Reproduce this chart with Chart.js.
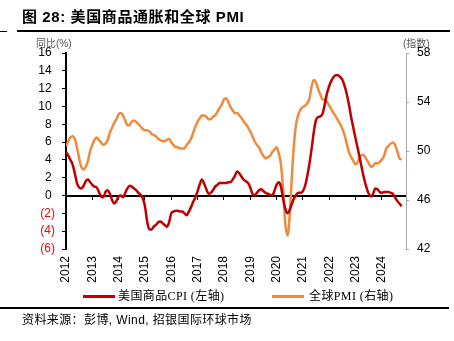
<!DOCTYPE html>
<html><head><meta charset="utf-8">
<script src="https://cdn.jsdelivr.net/npm/chart.js@4"></script>
<style>
body{margin:0;background:#fff;width:454px;height:341px;overflow:hidden;position:relative;font-family:'Liberation Sans',Arial,'Noto Sans CJK SC',sans-serif;}
#c{position:absolute;left:0;top:0;}
.t{position:absolute;white-space:nowrap;line-height:1;}
.lg{position:absolute;height:3px;}
</style></head><body>
<canvas id="c" width="454" height="341"></canvas>
<div class="t" style="left:22px;top:9px;font-size:15px;font-weight:bold;letter-spacing:0.6px;font-family:'Liberation Sans','Noto Sans CJK SC',sans-serif;">图 28: 美国商品通胀和全球 PMI</div>
<div style="position:absolute;left:0;top:31px;width:7px;height:1px;background:#000"></div>
<div style="position:absolute;left:17px;top:30px;width:433px;height:2px;background:#000"></div>
<div class="t" style="left:36px;top:39px;font-size:10px;color:#555">同比(%)</div>
<div class="t" style="left:403px;top:39px;font-size:10px;color:#555">(指数)</div>
<div id="legend"></div>
<div style="position:absolute;left:0;top:307px;width:449px;height:2px;background:#000"></div>
<div class="t" style="left:22px;top:314px;font-size:12px;letter-spacing:0.4px">资料来源：彭博, Wind, 招银国际环球市场</div>
<script>
const startYear = 2012;
const yearTicks = [2012, 2013, 2014, 2015, 2016, 2017, 2018, 2019, 2020, 2021, 2022, 2023, 2024];
const seriesNames = ['美国商品CPI (左轴)', '全球PMI (右轴)'];
// US commodities CPI YoY (%), monthly from Jan 2012
const cpi = [
  4.9, 4.5, 4.0, 3.5, 2.5, 1.4, 0.9, 0.8, 1.1, 1.6, 1.8, 1.5,
  1.2, 1.0, 0.9, 0.4, -0.1, -0.2, 0.4, 0.6, 0.2, -0.5, -0.9, -0.6,
  -0.1, 0.0, -0.2, 0.3, 0.8, 1.1, 1.0, 0.8, 0.6, 0.3, 0.1, -0.3,
  -1.2, -2.9, -3.8, -3.8, -3.5, -3.3, -3.0, -2.9, -3.1, -3.3, -3.5, -3.0,
  -2.0, -1.8, -1.7, -1.7, -1.8, -1.8, -2.0, -2.2, -1.8, -1.3, -0.7, -0.2,
  0.5, 1.3, 1.8, 1.3, 0.7, 0.2, 0.3, 0.6, 1.0, 1.2, 1.4, 1.4,
  1.4, 1.4, 1.5, 1.5, 1.8, 2.2, 2.7, 2.5, 2.1, 1.8, 1.6, 1.4,
  0.9, 0.2, 0.0, 0.3, 0.6, 0.7, 0.5, 0.3, 0.2, 0.1, 0.0, 0.5,
  1.2, 1.5, 1.0, -0.4, -1.5, -2.0, -1.6, -0.9, -0.3, 0.1, 0.3, 0.3,
  0.5, 1.1, 2.2, 3.6, 5.3, 7.2, 8.5, 8.8, 8.9, 9.2, 10.3, 11.5,
  12.3, 12.9, 13.3, 13.5, 13.5, 13.3, 13.0, 12.3, 11.4, 10.2, 8.8, 7.6,
  6.4, 5.3, 4.1, 2.9, 1.8, 0.9, 0.2, -0.1, 0.2, 0.8, 0.7, 0.4,
  0.3, 0.4, 0.4, 0.4, 0.3, 0.2, -0.2, -0.6, -0.9, -1.2
];
// Global manufacturing PMI, monthly from Jan 2012
const pmi = [
  50.4, 50.8, 51.1, 51.2, 51.0, 50.3, 49.4, 48.7, 48.5, 48.7, 49.2, 50.0,
  50.5, 50.9, 51.1, 50.9, 50.7, 50.5, 50.6, 50.9, 51.5, 51.9, 52.3, 52.6,
  53.0, 53.1, 52.9, 52.5, 52.1, 52.1, 52.4, 52.5, 52.4, 52.2, 52.0, 51.8,
  51.7, 51.7, 51.6, 51.4, 51.3, 51.2, 51.0, 50.9, 50.8, 50.8, 50.9, 51.0,
  50.7, 50.5, 50.3, 50.3, 50.2, 50.2, 50.2, 50.5, 50.7, 51.0, 51.5, 52.0,
  52.4, 52.7, 52.9, 52.9, 52.8, 52.6, 52.6, 52.8, 52.9, 53.2, 53.5, 53.8,
  54.2, 54.3, 54.0, 53.6, 53.3, 53.1, 53.1, 52.9, 52.7, 52.4, 52.2, 51.9,
  51.6, 51.2, 50.8, 50.5, 50.3, 49.9, 49.6, 49.4, 49.5, 49.6, 49.9, 50.1,
  50.3, 49.8, 48.9, 46.8, 44.0, 43.1, 44.8, 48.0, 50.7, 52.3, 53.0, 53.4,
  53.6, 53.7, 53.9, 54.3, 55.3, 55.8, 55.6, 55.0, 54.6, 54.2, 54.2, 54.0,
  53.7, 53.4, 53.1, 52.8, 52.5, 52.2, 51.8, 51.3, 50.6, 49.9, 49.5, 49.2,
  48.9, 49.1, 49.5, 49.7, 49.6, 49.3, 49.0, 48.7, 48.8, 49.0, 49.0, 49.1,
  49.3, 49.6, 50.2, 50.4, 50.6, 50.7, 50.5, 50.0, 49.4, 49.3
];
const colors = ['#C00000', '#F08A3C'];
const xMin = startYear, xMax = startYear + 155 / 12;
const toPts = arr => arr.map((v, i) => ({ x: startYear + i / 12, y: v }));
const tickFont = { family: "'Liberation Sans', Arial, sans-serif", size: 12 };
const yearTickBuild = s => { s.ticks = yearTicks.map(v => ({ value: v })); };

const chart = new Chart(document.getElementById('c'), {
  type: 'line',
  data: {
    datasets: [
      { label: seriesNames[0], data: toPts(cpi), yAxisID: 'y', xAxisID: 'x', borderColor: colors[0], backgroundColor: colors[0], borderWidth: 2.5, pointRadius: 0, cubicInterpolationMode: 'monotone' },
      { label: seriesNames[1], data: toPts(pmi), yAxisID: 'y1', xAxisID: 'x', borderColor: colors[1], backgroundColor: colors[1], borderWidth: 2.5, pointRadius: 0, cubicInterpolationMode: 'monotone' }
    ]
  },
  options: {
    responsive: false,
    animation: false,
    devicePixelRatio: 1,
    layout: { padding: { top: 53, bottom: 47, left: 0, right: 0 } },
    plugins: { legend: { display: false }, tooltip: { enabled: false } },
    scales: {
      x: {
        type: 'linear', position: 'bottom', min: xMin, max: xMax,
        afterBuildTicks: yearTickBuild,
        ticks: { callback: v => String(v), maxRotation: 90, minRotation: 90, autoSkip: false, padding: 7, font: tickFont, color: '#000' },
        grid: { display: false, drawTicks: false },
        border: { display: false },
        afterFit: s => { s.height = 45; }
      },
      x2: {
        type: 'linear', position: { y: 0 }, min: xMin, max: xMax,
        afterBuildTicks: yearTickBuild,
        ticks: { display: false },
        grid: { drawOnChartArea: false, drawTicks: true, tickLength: 3, color: '#000', lineWidth: 1 },
        border: { display: true, color: '#000', width: 2 }
      },
      y: {
        type: 'linear', position: 'left', min: -6, max: 16,
        ticks: {
          stepSize: 2, font: tickFont, padding: 7,
          callback: v => v < 0 ? '(' + (-v) + ')' : v + ' ',
          color: ctx => ctx.tick && ctx.tick.value < 0 ? '#FF0000' : '#000'
        },
        grid: { drawOnChartArea: false, drawTicks: true, tickLength: 4, color: '#000' },
        border: { color: '#000', width: 2 },
        afterFit: s => { s.width = 66; }
      },
      y1: {
        type: 'linear', position: 'right', min: 42, max: 58,
        ticks: { stepSize: 4, font: tickFont, color: '#000', padding: 8 },
        grid: { drawOnChartArea: false, drawTicks: true, tickLength: 3, color: '#A6A6A6' },
        border: { color: '#A6A6A6', width: 1 },
        afterFit: s => { s.width = 48; }
      }
    }
  }
});

// HTML legend built from the datasets
const lg = document.getElementById('legend');
const lgPos = [{ line: 83, text: 118 }, { line: 272, text: 309 }];
chart.data.datasets.forEach((ds, i) => {
  const l = document.createElement('div');
  l.className = 'lg';
  l.style.left = lgPos[i].line + 'px';
  l.style.top = '295px';
  l.style.width = '32px';
  l.style.background = ds.borderColor;
  lg.appendChild(l);
  const t = document.createElement('div');
  t.className = 't';
  t.style.left = lgPos[i].text + 'px';
  t.style.top = '290px';
  t.style.fontSize = '12px';
  t.style.letterSpacing = '0.4px';
  t.style.fontFamily = "'Liberation Serif', 'Noto Sans CJK SC', serif";
  t.textContent = ds.label;
  lg.appendChild(t);
});
</script>
</body></html>
